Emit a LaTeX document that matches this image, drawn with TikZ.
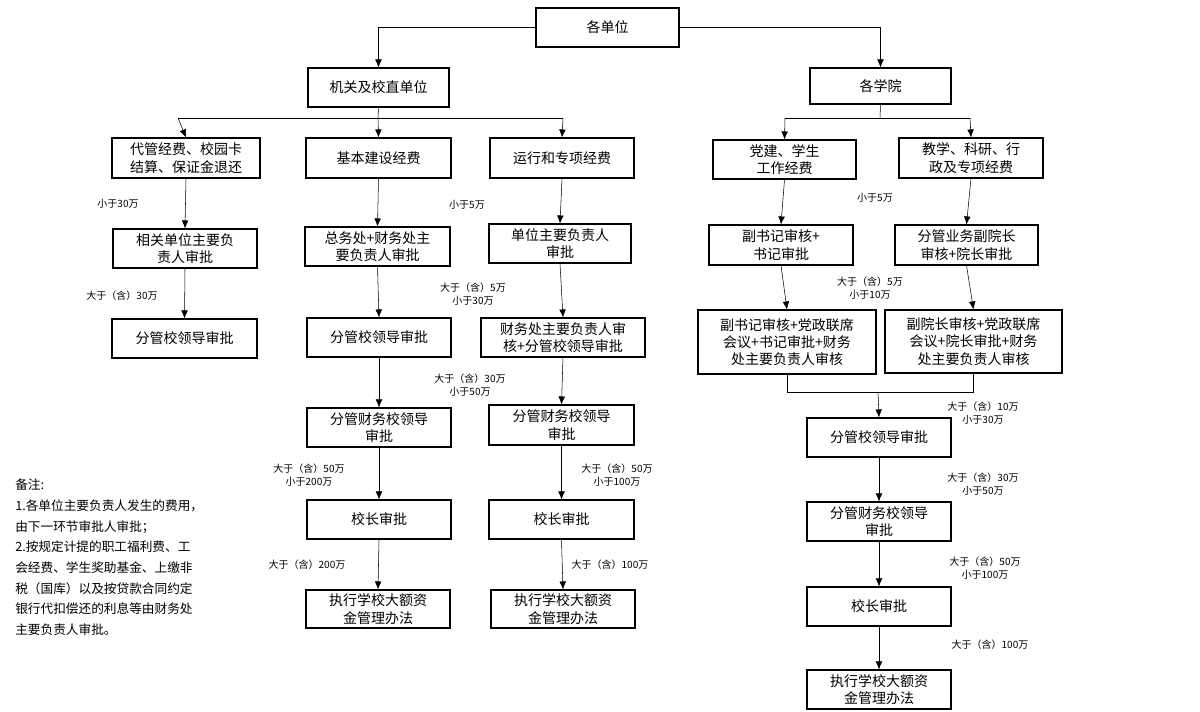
\documentclass[tikz,border=0pt]{standalone}
\usepackage{fontspec}
\setmainfont{Noto Sans CJK SC}
\usetikzlibrary{arrows.meta}
\begin{document}
\begin{tikzpicture}[x=0.75pt,y=-0.75pt,
 box/.style={draw,thick,inner sep=0pt,align=center,font=\fontsize{10.5}{13}\selectfont},
 lbl/.style={align=center,font=\fontsize{7.5}{10}\selectfont,inner sep=0pt},
 arr/.style={-{Latex[length=6pt,width=5pt]},thin},
 ln/.style={thin}]
\useasboundingbox (0,0) rectangle (1200,712);
\newcommand{\bx}[6]{\node[box,minimum width=#4*0.75pt-#2*0.75pt,minimum height=#5*0.75pt-#3*0.75pt] (#1) at ({(#2+#4)/2},{(#3+#5)/2}) {#6};}
\bx{a}{536}{8}{679}{47}{各单位}
\bx{b}{308}{68}{449}{107}{机关及校直单位}
\bx{c}{810}{68}{951}{104}{各学院}
\bx{b1}{112}{138}{260}{178}{代管经费、校园卡\\结算、保证金退还}
\bx{b2}{306}{138}{451}{178}{基本建设经费}
\bx{b3}{490}{138}{634}{178}{运行和专项经费}
\bx{b12}{113}{229}{257}{268}{相关单位主要负\\责人审批}
\bx{b22}{305}{227}{450}{266}{总务处+财务处主\\要负责人审批}
\bx{b32}{489}{224}{631}{263}{单位主要负责人\\审批}
\bx{b13}{112}{319}{257}{358}{分管校领导审批}
\bx{b23}{307}{318}{451}{357}{分管校领导审批}
\bx{b33}{481}{318}{645}{357}{财务处主要负责人审\\核+分管校领导审批}
\bx{b24}{307}{408}{451}{447}{分管财务校领导\\审批}
\bx{b34}{489}{405}{634}{445}{分管财务校领导\\审批}
\bx{b25}{307}{500}{451}{539}{校长审批}
\bx{b35}{489}{500}{634}{539}{校长审批}
\bx{b26}{306}{590}{450}{628}{执行学校大额资\\金管理办法}
\bx{b36}{491}{590}{635}{628}{执行学校大额资\\金管理办法}
\bx{c1}{713}{140}{856}{179}{党建、学生\\工作经费}
\bx{c2}{899}{138}{1043}{178}{教学、科研、行\\政及专项经费}
\bx{c12}{709}{225}{853}{265}{副书记审核+\\书记审批}
\bx{c22}{895}{225}{1038}{265}{分管业务副院长\\审核+院长审批}
\bx{c13}{698}{310}{876}{374}{副书记审核+党政联席\\会议+书记审批+财务\\处主要负责人审核}
\bx{c23}{885}{310}{1062}{373}{副院长审核+党政联席\\会议+院长审批+财务\\处主要负责人审核}
\bx{d1}{807}{418}{951}{457}{分管校领导审批}
\bx{d2}{807}{502}{951}{541}{分管财务校领导\\审批}
\bx{d3}{807}{587}{951}{626}{校长审批}
\bx{d4}{807}{670}{951}{709}{执行学校大额资\\金管理办法}
% top
\draw[arr] (a.west) -| (b.north);
\draw[arr] (a.east) -| (c.north);
\coordinate (bj) at (378,118);
\draw[ln] (b.south) -- (bj);
\draw[ln] (178,118) -- (563,118);
\draw[arr] (178,118) -- (b1.north);
\draw[arr] (bj) -- (b2.north);
\draw[arr] (563,118) -- (b3.north);
\coordinate (cj) at (880,118);
\draw[ln] (c.south) -- (cj);
\draw[ln] (785,118) -- (970,118);
\draw[arr] (785,118) -- (c1.north);
\draw[arr] (970,118) -- (c2.north);
% chains
\foreach \p/\q in {b1/b12,b12/b13,b2/b22,b22/b23,b23/b24,b24/b25,b25/b26,b3/b32,b32/b33,b33/b34,b34/b35,b35/b36,c1/c12,c12/c13,c2/c22,c22/c23,d1/d2,d2/d3,d3/d4}
  \draw[arr] (\p.south) -- (\q.north);
\draw[ln] (c13.south) -- ++(0,18) -| (c23.south);
\draw[arr] (878,392) -- (d1.north);
% labels
\node[lbl] (l1) at (118,204) {小于30万};
\node[lbl] (l2) at (122,296) {大于（含）30万};
\node[lbl] (l3) at (467,205) {小于5万};
\node[lbl] (l4) at (473,294) {大于（含）5万\\小于30万};
\node[lbl] (l5) at (470,385) {大于（含）30万\\小于50万};
\node[lbl] (l6) at (309,475) {大于（含）50万\\小于200万};
\node[lbl] (l7) at (307,565) {大于（含）200万};
\node[lbl] (l8) at (617,475) {大于（含）50万\\小于100万};
\node[lbl] (l9) at (610,565) {大于（含）100万};
\node[lbl] (l10) at (875,198) {小于5万};
\node[lbl] (l11) at (870,288) {大于（含）5万\\小于10万};
\node[lbl] (l12) at (983,413) {大于（含）10万\\小于30万};
\node[lbl] (l13) at (983,484) {大于（含）30万\\小于50万};
\node[lbl] (l14) at (985,568) {大于（含）50万\\小于100万};
\node[lbl] (l15) at (990,645) {大于（含）100万};
\node[anchor=north west,align=left,inner sep=0pt,font=\fontsize{9.5}{15.5}\selectfont] (note) at (15,479) {备注:\\1.各单位主要负责人发生的费用，\\由下一环节审批人审批；\\2.按规定计提的职工福利费、工\\会经费、学生奖助基金、上缴非\\税（国库）以及按贷款合同约定\\银行代扣偿还的利息等由财务处\\主要负责人审批。};
\end{tikzpicture}
\end{document}
